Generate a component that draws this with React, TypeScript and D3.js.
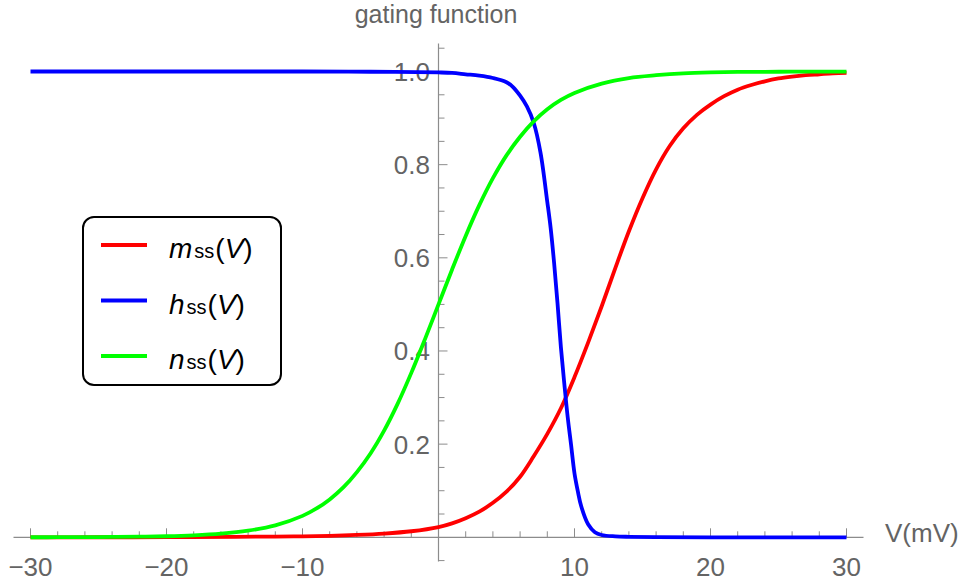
import React from "react";
import * as d3 from "d3";

const mV = [-30, -25, -20, -15, -12, -10, -8, -6, -4, -2, 0, 1, 2, 3, 4, 5, 6, 7, 8, 9, 10, 11, 12, 13, 14, 15, 16, 17, 18, 19, 20, 21, 22, 23, 24, 25, 26, 27, 28, 29, 30];
const mSS = [0.0, 0.0001, 0.0003, 0.001, 0.0015, 0.002, 0.003, 0.005, 0.008, 0.013, 0.022, 0.03, 0.041, 0.055, 0.074, 0.098, 0.13, 0.174, 0.222, 0.277, 0.344, 0.418, 0.496, 0.578, 0.657, 0.728, 0.79, 0.84, 0.878, 0.907, 0.929, 0.947, 0.961, 0.971, 0.979, 0.985, 0.989, 0.992, 0.994, 0.996, 0.997];

const hV = [-30, -20, -10, -5, 0, 1, 2, 3, 4, 5, 5.5, 6, 6.5, 7, 7.5, 8, 8.25, 8.5, 8.75, 9, 9.25, 9.5, 9.75, 10, 10.25, 10.5, 11, 11.5, 12, 13, 14, 16, 20, 30];
const hSS = [1.0, 1.0, 1.0, 0.9995, 0.998, 0.997, 0.994, 0.991, 0.986, 0.977, 0.966, 0.948, 0.925, 0.89, 0.826, 0.72, 0.663, 0.589, 0.503, 0.408, 0.33, 0.258, 0.198, 0.137, 0.098, 0.066, 0.028, 0.011, 0.005, 0.002, 0.001, 0.0003, 0.0, 0.0];

const nV = [-30, -28, -26, -24, -22, -20, -18, -16, -14, -12, -10, -9, -8, -7, -6, -5, -4, -3, -2, -1, 0, 1, 2, 3, 4, 5, 6, 7, 8, 9, 10, 12, 14, 16, 18, 20, 22, 24, 26, 28, 30];
const nSS = [0.0001, 0.0002, 0.0004, 0.0007, 0.0013, 0.0023, 0.0043, 0.0078, 0.0142, 0.0256, 0.046, 0.0613, 0.0814, 0.107, 0.14, 0.18, 0.229, 0.287, 0.353, 0.425, 0.5, 0.575, 0.647, 0.713, 0.771, 0.82, 0.86, 0.893, 0.919, 0.939, 0.954, 0.974, 0.986, 0.992, 0.996, 0.998, 0.999, 0.9993, 0.9996, 0.9998, 0.9999];

const xTickLabels = [-30, -20, -10, 10, 20, 30];
const yTickLabels = [0.2, 0.4, 0.6, 0.8, 1.0];

const seriesNames = ["m", "h", "n"];
const seriesColors = ["#ff0000", "#0000ff", "#00ff00"];

const W = 962;
const H = 585;
const FONT = "'Liberation Sans', Arial, sans-serif";
const TXT = "#646464";
const AX = "#8c8c8c";

export default function App() {
  const x = d3.scaleLinear().domain([-30, 30]).range([30.5, 846.5]);
  const y = d3.scaleLinear().domain([0, 1]).range([537.3, 71.5]);
  const line = d3
    .line<[number, number]>()
    .x((d) => x(d[0]))
    .y((d) => y(d[1]))
    .curve(d3.curveCatmullRom.alpha(0.5));

  const series = [
    { name: "m", pts: mV.map((v, i) => [v, mSS[i]] as [number, number]) },
    { name: "h", pts: hV.map((v, i) => [v, hSS[i]] as [number, number]) },
    { name: "n", pts: nV.map((v, i) => [v, nSS[i]] as [number, number]) },
  ];

  const x0 = x(0);
  const yAxis0 = y(0);
  const xMinor = d3.range(-30, 30.001, 2);
  const yMinor = d3.range(-0.05, 1.0501, 0.05);

  const fmt = (v: number) => (v < 0 ? "\u2212" + Math.abs(v) : String(v));

  return (
    <svg
      width={W}
      height={H}
      style={{ position: "absolute", left: 0, top: 0, background: "#fff" }}
      fontFamily={FONT}
    >
      {/* x axis */}
      <line x1={x(-31.25)} x2={x(31.25)} y1={yAxis0} y2={yAxis0} stroke={AX} strokeWidth={1.2} />
      {xMinor.map((v) => {
        const major = Math.abs(Math.round(v) % 10) === 0;
        if (Math.abs(v) < 1e-6) return null;
        return (
          <line
            key={"xt" + v}
            x1={x(v)}
            x2={x(v)}
            y1={yAxis0}
            y2={yAxis0 - (major ? 9 : 6)}
            stroke={AX}
            strokeWidth={1}
          />
        );
      })}
      {xTickLabels.map((v) => (
        <text key={"xl" + v} x={x(v)} y={576} textAnchor="middle" fontSize={26} fill={TXT}>
          {fmt(v)}
        </text>
      ))}
      <text x={885} y={542} fontSize={26} fill={TXT}>
        V(mV)
      </text>

      {/* y axis */}
      <line x1={x0} x2={x0} y1={y(1.06)} y2={y(-0.052)} stroke={AX} strokeWidth={1.2} />
      {yMinor.map((v) => {
        const r = Math.round(v * 100);
        if (r === 0) return null;
        const major = r % 20 === 0;
        return (
          <line
            key={"yt" + r}
            x1={x0}
            x2={x0 + (major ? 9 : 6)}
            y1={y(v)}
            y2={y(v)}
            stroke={AX}
            strokeWidth={1}
          />
        );
      })}
      {yTickLabels.map((v) => (
        <text
          key={"yl" + v}
          x={430}
          y={y(v)}
          dy="0.36em"
          textAnchor="end"
          fontSize={26}
          fill={TXT}
        >
          {v.toFixed(1)}
        </text>
      ))}
      <text x={436} y={23} textAnchor="middle" fontSize={25} fill={TXT}>
        gating function
      </text>

      {/* curves */}
      {series.map((s, i) => (
        <path
          key={s.name}
          d={line(s.pts) || ""}
          fill="none"
          stroke={seriesColors[i]}
          strokeWidth={3.8}
          strokeLinejoin="round"
        />
      ))}

      {/* legend */}
      <rect x={83} y={217} width={198} height={168} rx={11} ry={11} fill="#fff" stroke="#000" strokeWidth={2} />
      {seriesNames.map((nm, i) => {
        const ly = 245 + i * 55.5;
        return (
          <g key={"lg" + nm}>
            <line x1={101} x2={147} y1={ly} y2={ly} stroke={seriesColors[i]} strokeWidth={3.8} />
            <text x={169} y={ly + 13} fontSize={28} fill="#000">
              <tspan fontStyle="italic">{nm}</tspan>
              <tspan fontSize={20} dx={2}>ss</tspan>
              <tspan dx={1}>(</tspan>
              <tspan fontStyle="italic">V</tspan>
              <tspan>)</tspan>
            </text>
          </g>
        );
      })}
    </svg>
  );
}
